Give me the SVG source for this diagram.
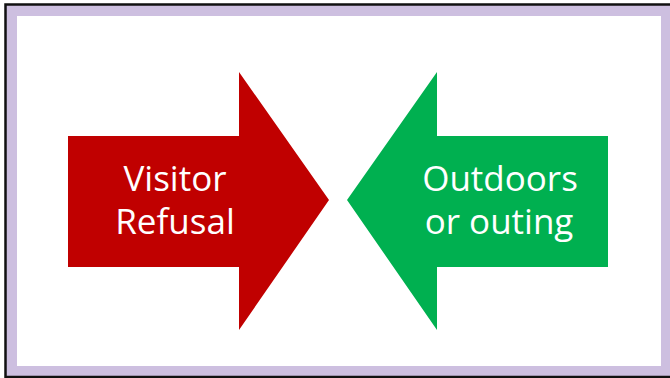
<svg xmlns="http://www.w3.org/2000/svg" width="670" height="378" viewBox="0 0 670 378">
<style>
.lbl{font-family:"Open Sans","Liberation Sans",sans-serif;font-size:35px;fill:#FFFFFF;text-anchor:middle}
</style>
<rect x="0" y="0" width="670" height="378" fill="#FFFFFF"/>
<rect x="5.5" y="4.5" width="672" height="372.5" fill="#CDBFE0" stroke="#111111" stroke-width="2.5"/>
<rect x="17" y="16" width="644" height="350" fill="#FFFFFF"/>
<g id="refusal">
<polygon points="68,136 239,136 239,72 329,200 239,330 239,267 68,267" fill="#C00000"/>
<text class="lbl" x="175" y="191">Visitor</text>
<text class="lbl" x="175" y="234">Refusal</text>
</g>
<g id="outdoors">
<polygon points="608,136 437,136 437,72 347,200 437,330 437,267 608,267" fill="#00B050"/>
<text class="lbl" x="500" y="191">Outdoors</text>
<text class="lbl" x="499" y="234">or outing</text>
</g>
<g id="connectors"/>
</svg>
